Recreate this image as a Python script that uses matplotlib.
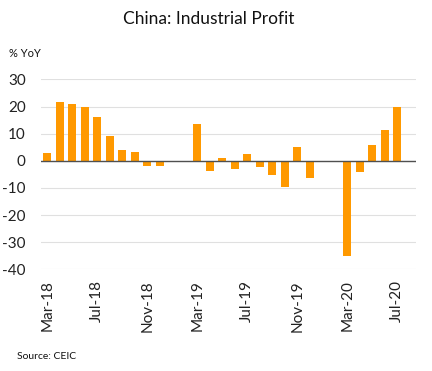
import matplotlib
matplotlib.use("Agg")
import matplotlib.pyplot as plt

plt.rcParams['font.family'] = ['Lato', 'DejaVu Sans']

months = ["Mar-18", "Apr-18", "May-18", "Jun-18", "Jul-18", "Aug-18", "Sep-18", "Oct-18",
          "Nov-18", "Dec-18", "Jan-19", "Feb-19", "Mar-19", "Apr-19", "May-19", "Jun-19",
          "Jul-19", "Aug-19", "Sep-19", "Oct-19", "Nov-19", "Dec-19", "Jan-20", "Feb-20",
          "Mar-20", "Apr-20", "May-20", "Jun-20", "Jul-20", "Aug-20"]
values = [3.0, 21.8, 21.1, 20.0, 16.2, 9.2, 4.1, 3.4, -1.8, -1.9, None, None, 13.7, -3.6,
          1.1, -3.2, 2.6, -2.1, -5.4, -9.8, 5.2, -6.2, None, None, -34.9, -4.3, 5.9,
          11.4, 19.7, None]
tick_labels = ["Mar-18", "Jul-18", "Nov-18", "Mar-19", "Jul-19", "Nov-19", "Mar-20", "Jul-20"]
yticks = [30, 20, 10, 0, -10, -20, -30, -40]

fig = plt.figure(figsize=(4.32, 3.71), dpi=100)
ax = fig.add_axes([0.095, 0.274, 0.868, 0.512])

xs = [i for i, v in enumerate(values) if v is not None]
vs = [v for v in values if v is not None]
ax.bar(xs, vs, width=0.65, color='#FF9900', zorder=3)

ax.set_xlim(-0.5, len(months) - 0.5)
ax.set_ylim(-40, 30)
ax.set_yticks(yticks)
ax.set_yticklabels([str(t) for t in yticks], fontsize=11, color='#222222')
ax.set_xticks([months.index(m) for m in tick_labels])
ax.set_xticklabels(tick_labels, rotation=90, fontsize=11, color='#222222')
ax.tick_params(length=0)
ax.tick_params(axis='x', pad=8)
ax.tick_params(axis='y', pad=11)
for s in ax.spines.values():
    s.set_visible(False)
ax.grid(axis='y', color='#E0E0E0', linewidth=0.8, zorder=0)
ax.axhline(0, color='#505050', linewidth=1.0, zorder=4)

fig.text(0.484, 0.948, "China: Industrial Profit", ha='center', va='center', fontsize=12.5, color='#111111')
fig.text(0.021, 0.855, "% YoY", ha='left', va='center', fontsize=8, color='#111111')
fig.text(0.039, 0.038, "Source: CEIC", ha='left', va='center', fontsize=7.5, color='#111111')

fig.savefig("out.png", dpi=100)
